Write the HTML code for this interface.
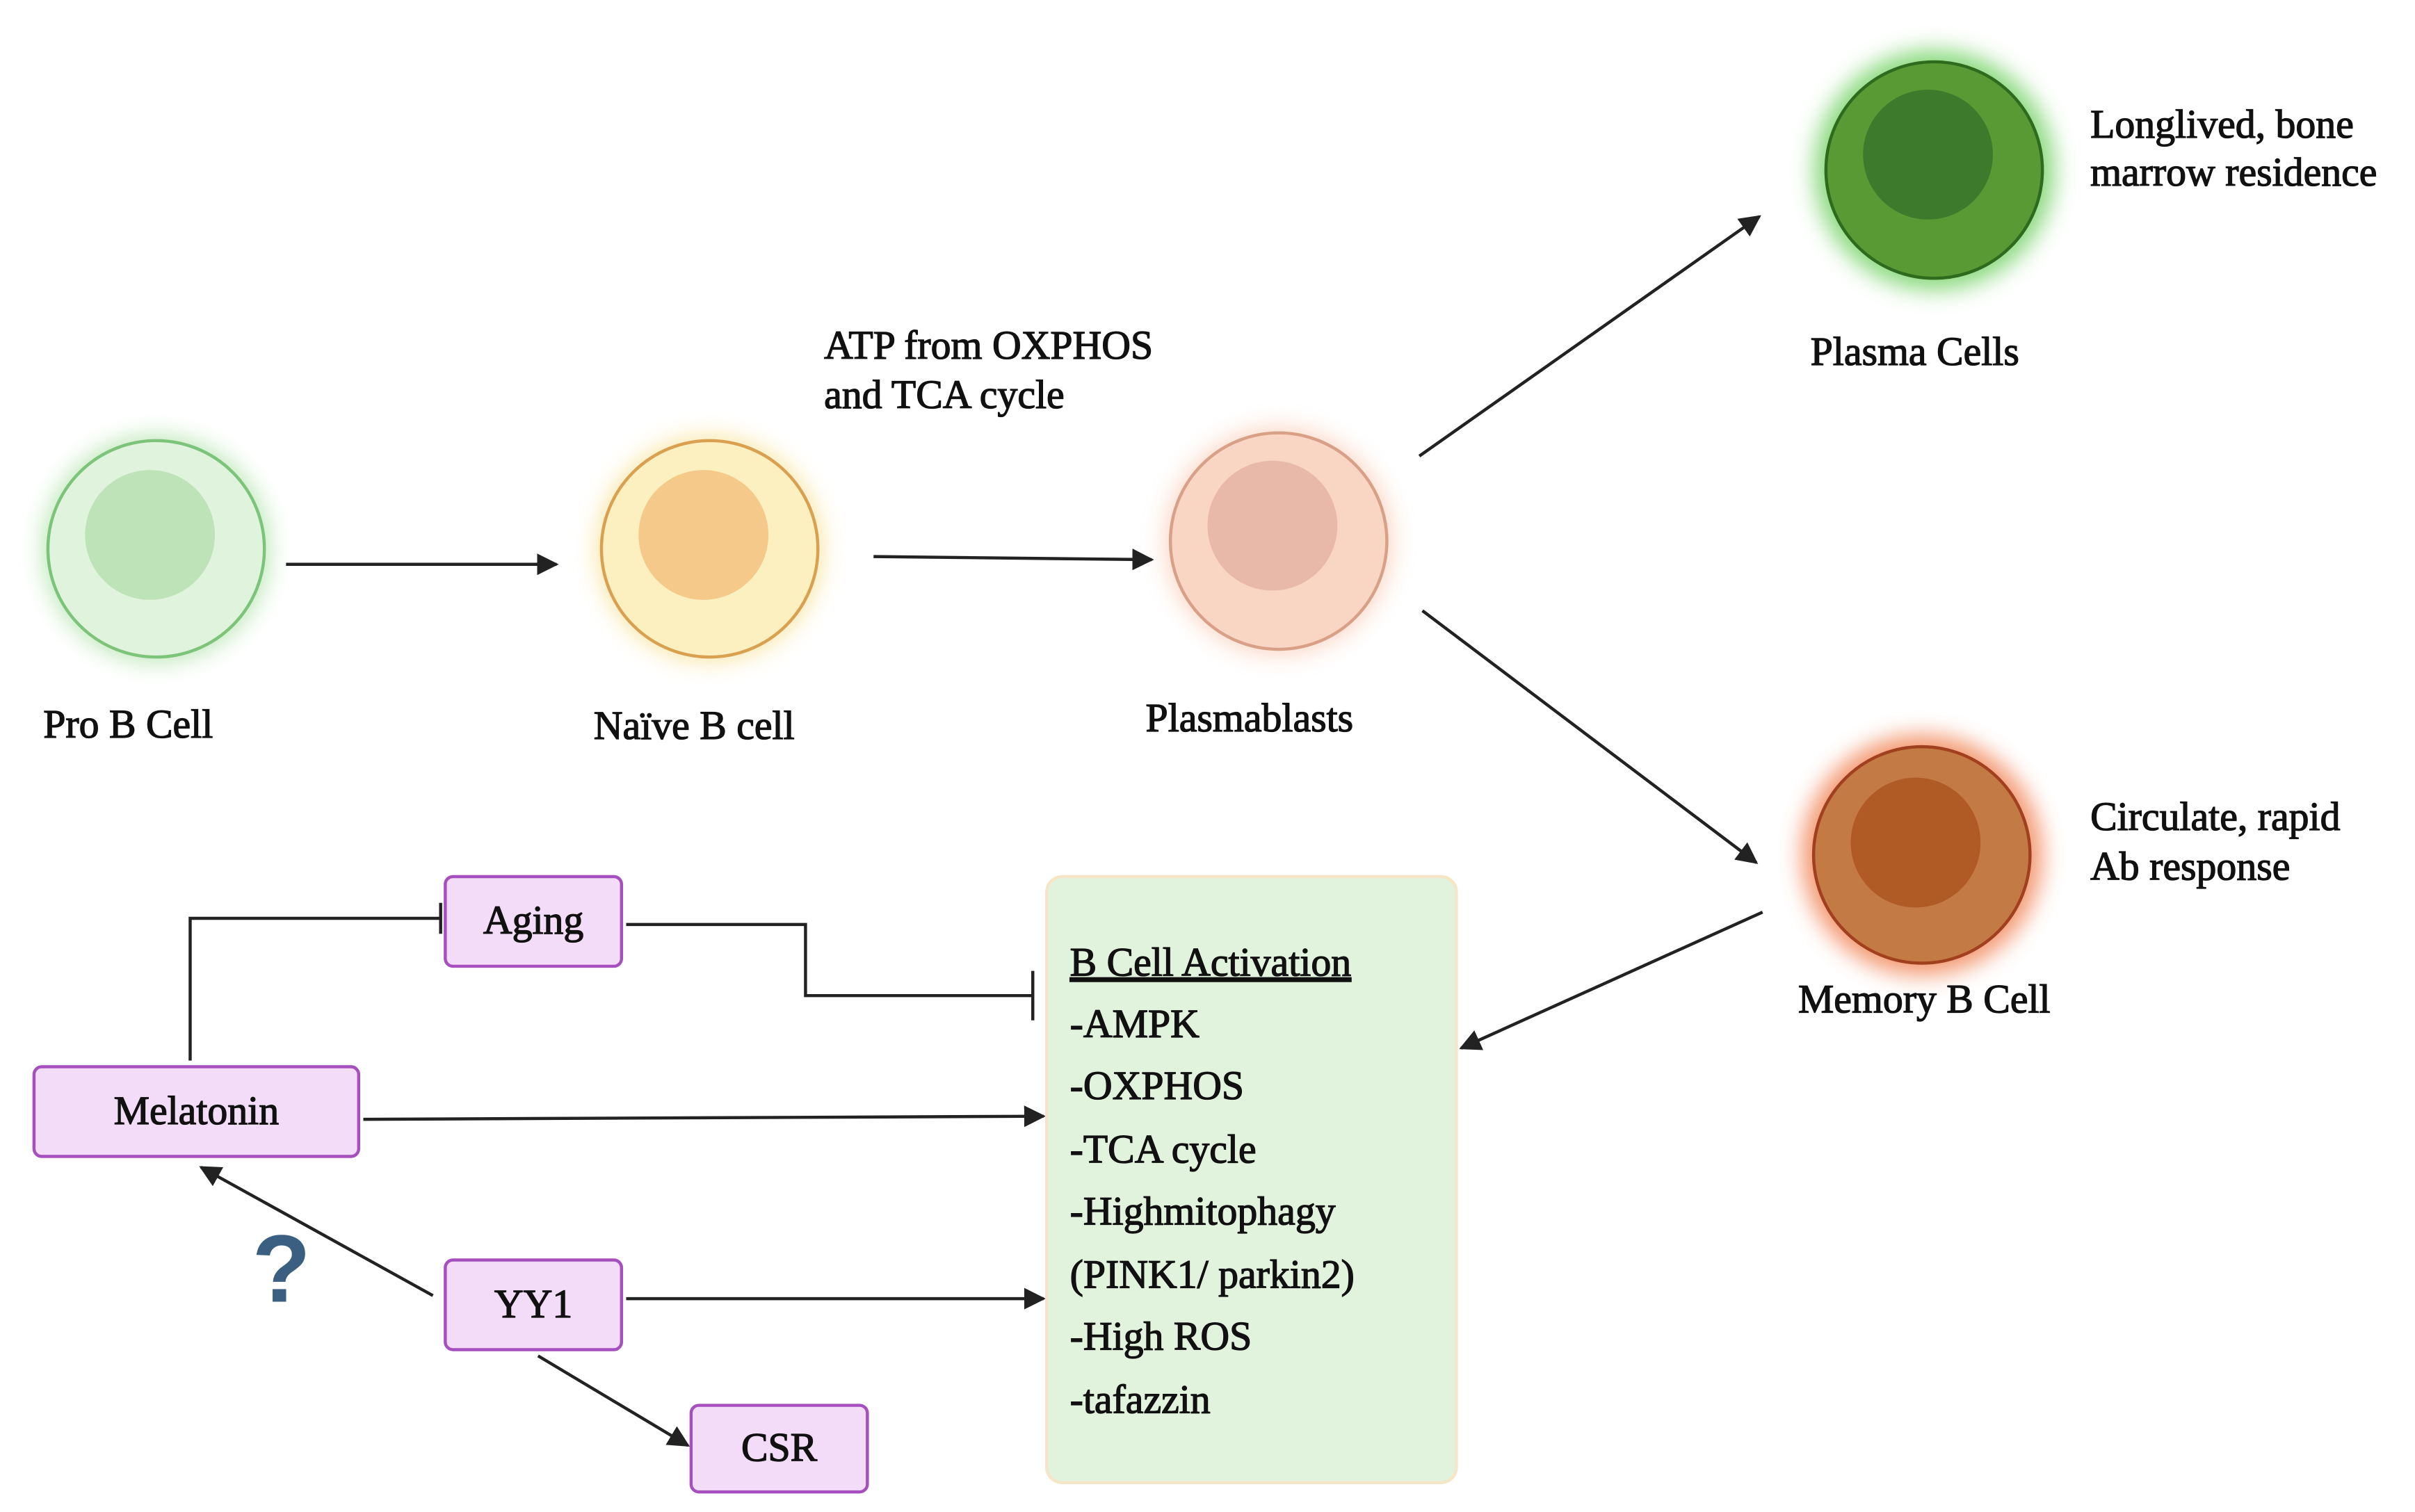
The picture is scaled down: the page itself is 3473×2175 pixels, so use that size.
<!DOCTYPE html>
<html><head><meta charset="utf-8"><style>html,body{margin:0;padding:0;background:#fff}svg{display:block}text{font-family:"Liberation Serif",serif;fill:#111;stroke:#111;stroke-width:0.6}</style></head><body>
<svg width="3473" height="2175" viewBox="0 0 1562 978" preserveAspectRatio="none" xmlns="http://www.w3.org/2000/svg">
<defs>
<marker id="a" viewBox="0 0 10 10" refX="9" refY="5" markerWidth="7" markerHeight="7" orient="auto"><path d="M0,0L10,5L0,10z" fill="#222"/></marker>
<filter id="g" x="-50%" y="-50%" width="200%" height="200%"><feGaussianBlur stdDeviation="7"/></filter>
</defs>
<g>
<circle cx="101" cy="355" r="74" fill="#a8e0a0" filter="url(#g)" opacity="0.7"/>
<circle cx="101" cy="355" r="70" fill="#e0f3dc" stroke="#7cc47a" stroke-width="2"/>
<circle cx="97" cy="346" r="42" fill="#bfe3b8"/>
<circle cx="459" cy="355" r="74" fill="#f8e090" filter="url(#g)" opacity="0.7"/>
<circle cx="459" cy="355" r="70" fill="#fdf0c0" stroke="#d9a050" stroke-width="2"/>
<circle cx="455" cy="346" r="42" fill="#f5c98a"/>
<circle cx="827" cy="350" r="74" fill="#f9c8b0" filter="url(#g)" opacity="0.7"/>
<circle cx="827" cy="350" r="70" fill="#f9d5c4" stroke="#d9a088" stroke-width="2"/>
<circle cx="823" cy="340" r="42" fill="#e8b8a8"/>
<circle cx="1251" cy="110" r="78" fill="#70d060" filter="url(#g)" opacity="0.8"/>
<circle cx="1251" cy="110" r="70" fill="#5a9a35" stroke="#2e6b1e" stroke-width="2"/>
<circle cx="1247" cy="100" r="42" fill="#3e7a2c"/>
<circle cx="1243" cy="553" r="78" fill="#f08050" filter="url(#g)" opacity="0.8"/>
<circle cx="1243" cy="553" r="70" fill="#c47a45" stroke="#a0401e" stroke-width="2"/>
<circle cx="1239" cy="545" r="42" fill="#b05a25"/>
</g>
<g font-size="26">
<text x="28" y="477">Pro B Cell</text>
<text x="384" y="478">Naïve B cell</text>
<text x="741" y="473">Plasmablasts</text>
<text x="1171" y="236">Plasma Cells</text>
<text x="1163" y="655">Memory B Cell</text>
<text x="533" y="232">ATP from OXPHOS</text>
<text x="533" y="264">and TCA cycle</text>
<text x="1352" y="89">Longlived, bone</text>
<text x="1352" y="120">marrow residence</text>
<text x="1352" y="537">Circulate, rapid</text>
<text x="1352" y="569">Ab response</text>
</g>
<g stroke="#222" stroke-width="2" fill="none" marker-end="url(#a)">
<line x1="185" y1="365" x2="360" y2="365"/>
<line x1="565" y1="360" x2="745" y2="362"/>
<line x1="918" y1="295" x2="1138" y2="140"/>
<line x1="920" y1="395" x2="1136" y2="558"/>
<line x1="1140" y1="590" x2="945" y2="678"/>
<line x1="235" y1="724" x2="675" y2="722"/>
<line x1="405" y1="840" x2="675" y2="840"/>
<line x1="280" y1="838" x2="130" y2="755"/>
<line x1="348" y1="877" x2="445" y2="935"/>
</g>
<g stroke="#222" stroke-width="2" fill="none">
<polyline points="123,686 123,594 285,594"/>
<line x1="285" y1="584" x2="285" y2="604"/>
<polyline points="405,598 521,598 521,644 668,644"/>
<line x1="668" y1="628" x2="668" y2="660"/>
</g>
<rect x="677" y="567" width="265" height="392" rx="10" fill="#e1f3dc" stroke="#f5e6c8" stroke-width="2"/>
<g fill="#f3dcf7" stroke="#a64fbf" stroke-width="2">
<rect x="288" y="567" width="114" height="58" rx="5"/>
<rect x="22" y="690" width="210" height="58" rx="5"/>
<rect x="288" y="815" width="114" height="58" rx="5"/>
<rect x="447" y="909" width="114" height="56" rx="5"/>
</g>
<g font-size="26" text-anchor="middle">
<text x="345" y="604">Aging</text>
<text x="127" y="727">Melatonin</text>
<text x="345" y="852">YY1</text>
<text x="504" y="945">CSR</text>
</g>
<text x="182" y="842" font-size="62" text-anchor="middle" style="fill:#3a5f80;stroke:none;font-family:'Liberation Sans',sans-serif;font-weight:bold">?</text>
<g font-size="26">
<text x="692" y="631" text-decoration="underline">B Cell Activation</text>
<text x="692" y="671">-AMPK</text>
<text x="692" y="711">-OXPHOS</text>
<text x="692" y="752">-TCA cycle</text>
<text x="692" y="792">-Highmitophagy</text>
<text x="692" y="833">(PINK1/ parkin2)</text>
<text x="692" y="873">-High ROS</text>
<text x="692" y="914">-tafazzin</text>
</g>
</svg>
</body></html>
